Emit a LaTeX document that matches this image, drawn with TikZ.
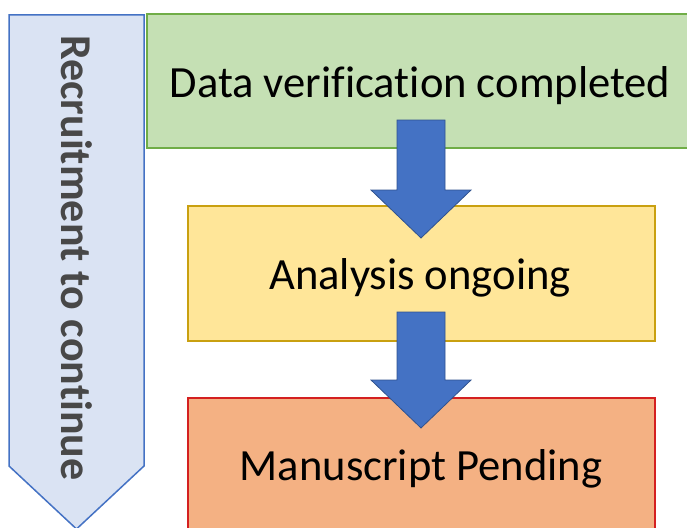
\documentclass[tikz,border=0pt]{standalone}
\usepackage{fontspec}
\setmainfont[Ligatures=NoCommon]{Carlito}
\definecolor{sideFill}{HTML}{DAE3F3}
\definecolor{sideLine}{HTML}{4472C4}
\definecolor{greenFill}{HTML}{C5E0B4}
\definecolor{greenLine}{HTML}{70AD47}
\definecolor{yellowFill}{HTML}{FFE699}
\definecolor{yellowLine}{HTML}{C9A010}
\definecolor{orangeFill}{HTML}{F4B183}
\definecolor{orangeLine}{HTML}{D42020}
\definecolor{arrowFill}{HTML}{4472C4}
\definecolor{arrowLine}{HTML}{2F528F}
\definecolor{sideText}{HTML}{484848}
\begin{document}
\begin{tikzpicture}[x=1pt,y=-1pt,
  box/.style={draw, line width=1.5pt, rectangle, inner sep=0pt, outer sep=0pt, anchor=north west},
  lbl/.style={inner sep=0pt, anchor=base, font=\fontsize{44.6}{52}\selectfont, text=black},
  blockarrow/.style={fill=arrowFill, draw=arrowLine, line width=0.8pt, line join=miter},
  sidearrow/.style={fill=sideFill, draw=sideLine, line width=1.5pt, line join=miter}]
\useasboundingbox (0,0) rectangle (687,527);
\clip (0,0) rectangle (687,527);
% left side arrow
\draw[sidearrow] (9,15) -- (144,15) -- (144,466) -- (76.5,529) -- (9,466) -- cycle;
\node[rotate=-90, anchor=base west, inner sep=0pt, text=sideText,
      font=\fontsize{44}{52}\selectfont\bfseries] (recruit) at (61,35) {Recruitment to continue};
% boxes
\node[box, fill=greenFill, draw=greenLine, minimum width=550pt, minimum height=134pt] (verif) at (147,14) {};
\node[box, fill=yellowFill, draw=yellowLine, minimum width=467pt, minimum height=135pt] (analysis) at (188,206) {};
\node[box, fill=orangeFill, draw=orangeLine, minimum width=467pt, minimum height=150pt] (manus) at (188,398) {};
\node[lbl] (verifT) at (420,97) {Data verification completed};
\node[lbl] (analysisT) at (420,289) {Analysis ongoing};
\node[lbl] (manusT) at (421,480) {Manuscript Pending};
% block arrows
\draw[blockarrow] (397,120) -- (445,120) -- (445,190) -- (471,190) -- (421,238) -- (371,190) -- (397,190) -- cycle;
\draw[blockarrow] (397,312) -- (445,312) -- (445,380) -- (471,380) -- (421,428) -- (371,380) -- (397,380) -- cycle;
\end{tikzpicture}
\end{document}
